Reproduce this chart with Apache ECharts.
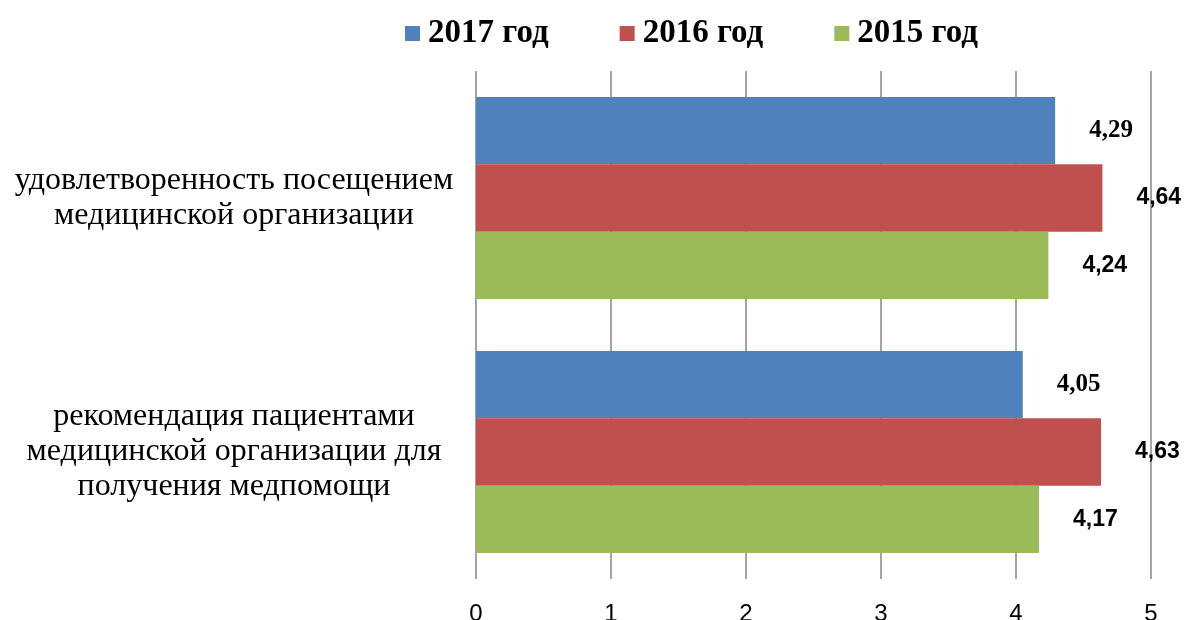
<html>
<head>
    <meta charset="utf-8">
    <title>Оценка</title>
    <script src="https://cdn.jsdelivr.net/npm/echarts@6/dist/echarts.min.js"></script>
    <style>
        body { margin: 0; background: #fff; }
    </style>
</head>
<body>
<div id="main" style="width: 1188px;height:620px;"></div>
<script type="text/javascript">
    var categories = [
        'удовлетворенность посещением\nмедицинской организации',
        'рекомендация пациентами\nмедицинской организации для\nполучения медпомощи'
    ];
    var seriesNames = ['2017 год', '2016 год', '2015 год'];
    var values2017 = [4.29, 4.05];
    var values2016 = [4.64, 4.63];
    var values2015 = [4.24, 4.17];
    var xTicks = [0, 1, 2, 3, 4, 5];
    var colors = ['#4F81BD', '#C0504D', '#9BBB59'];

    var myChart = echarts.init(document.getElementById('main'));

    // 2017 labels are in serif bold, the rest in sans bold (as in the original)
    function makeSeries(name, data, color, font, size) {
        return {
            name: name,
            type: 'bar',
            data: data,
            barGap: '0%',
            barCategoryGap: '20.5%',
            itemStyle: { color: color },
            label: {
                show: true,
                position: 'right',
                distance: 34,
                color: '#000',
                fontFamily: font,
                fontWeight: 'bold',
                fontSize: size,
                formatter: function (p) { return String(p.value).replace('.', ','); }
            }
        };
    }

    myChart.setOption({
        animation: false,
        color: colors,
        legend: {
            left: 400,
            top: 12,
            icon: 'rect',
            itemWidth: 15,
            itemHeight: 15,
            itemGap: 71,
            textStyle: {
                fontFamily: 'Liberation Serif',
                fontWeight: 'bold',
                fontSize: 33,
                color: '#000',
                padding: [0, 0, 0, 3]
            },
            data: seriesNames
        },
        grid: { left: 476, right: 37, top: 71, bottom: 41, outerBoundsMode: 'none', containLabel: false },
        xAxis: {
            type: 'value',
            min: xTicks[0],
            max: xTicks[xTicks.length - 1],
            interval: 1,
            axisLine: { show: false },
            axisTick: { show: false },
            splitLine: { show: true, lineStyle: { color: '#868686', width: 1.5 } },
            axisLabel: {
                margin: 23,
                fontFamily: 'Liberation Sans',
                fontSize: 24,
                color: '#000'
            }
        },
        yAxis: {
            type: 'category',
            inverse: true,
            data: categories,
            axisLine: { show: false },
            axisTick: { show: false },
            axisLabel: {
                margin: 242,
                align: 'center',
                lineHeight: 35,
                padding: [20, 0, 0, 0],
                fontFamily: 'Liberation Serif',
                fontSize: 32,
                color: '#000'
            }
        },
        series: [
            makeSeries(seriesNames[0], values2017, colors[0], 'Liberation Serif', 25),
            makeSeries(seriesNames[1], values2016, colors[1], 'Liberation Sans', 23),
            makeSeries(seriesNames[2], values2015, colors[2], 'Liberation Sans', 23)
        ]
    });
</script>
</body>
</html>
